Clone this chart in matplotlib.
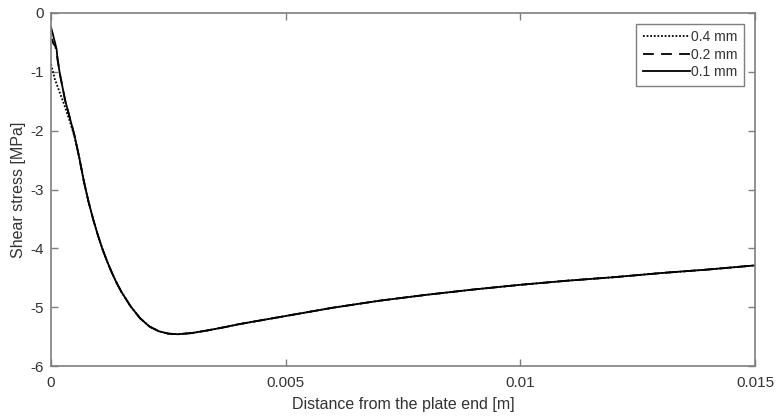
import matplotlib
matplotlib.use("Agg")
import matplotlib.pyplot as plt
import numpy as np

plt.rcParams['font.family'] = ['Liberation Sans', 'DejaVu Sans']

# shared part of the curves (all meshes coincide here)
x_common = [0.0006, 0.0007, 0.0008, 0.0009, 0.0010, 0.0011, 0.0012, 0.0013, 0.0014,
            0.0015, 0.0017, 0.0019, 0.0021, 0.0023, 0.0025, 0.0027, 0.0030, 0.0033,
            0.0037, 0.0040, 0.0045, 0.0050, 0.0055, 0.0060, 0.0065, 0.0070, 0.0075,
            0.0080, 0.0090, 0.0100, 0.0110, 0.0120, 0.0130, 0.0140, 0.0150]
y_common = [-2.45, -2.86, -3.21, -3.51, -3.78, -4.02, -4.23, -4.42, -4.59,
            -4.74, -4.99, -5.19, -5.33, -5.41, -5.45, -5.46, -5.44, -5.40,
            -5.34, -5.29, -5.22, -5.15, -5.08, -5.01, -4.95, -4.89, -4.84,
            -4.79, -4.70, -4.62, -4.55, -4.49, -4.42, -4.36, -4.29]

# near the plate end the meshes differ
x_head_01 = [0.0, 0.00004, 0.00009, 0.00012, 0.00014, 0.0002, 0.0003, 0.0004, 0.0005]
y_head_01 = [-0.24, -0.36, -0.52, -0.62, -0.80, -1.08, -1.48, -1.78, -2.08]
x_head_02 = [0.00002, 0.00005, 0.00009, 0.00012, 0.00014, 0.0002, 0.0003, 0.0004, 0.0005]
y_head_02 = [-0.44, -0.52, -0.56, -0.66, -0.78, -1.08, -1.48, -1.78, -2.08]
x_head_04 = [0.0, 0.00008, 0.0002, 0.0003, 0.0004, 0.0005]
y_head_04 = [-0.87, -1.12, -1.38, -1.60, -1.84, -2.10]

labels = ['0.4 mm', '0.2 mm', '0.1 mm']

grey = '#7f7f7f'
txt = '#333333'

fig = plt.figure(figsize=(7.78, 4.16), dpi=100)
ax = fig.add_axes([51/778, 50/416, (755-51)/778, (366-13)/416])

ax.plot(x_head_04 + x_common, y_head_04 + y_common, color='black', lw=1.3,
        linestyle=(0, (1, 1)), label=labels[0])
ax.plot(x_head_02 + x_common, y_head_02 + y_common, color='black', lw=1.3,
        linestyle=(0, (6, 4)), label=labels[1])
ax.plot(x_head_01 + x_common, y_head_01 + y_common, color='black', lw=1.3,
        linestyle='-', label=labels[2])

ax.set_xlim(0, 0.015)
ax.set_ylim(-6, 0)
ax.set_xticks([0, 0.005, 0.01, 0.015])
ax.set_xticklabels(['0', '0.005', '0.01', '0.015'])
ax.set_yticks(np.arange(-6, 1, 1))
ax.set_yticklabels([str(v) for v in range(-6, 1)])
ax.tick_params(direction='in', top=True, right=True, length=5, width=1,
               color=grey, labelcolor=txt, labelsize=11)
ax.tick_params(axis='x', pad=7)
ax.tick_params(axis='y', pad=5)
for s in ax.spines.values():
    s.set_color(grey)
    s.set_linewidth(1.2)

ax.set_xlabel('Distance from the plate end [m]', fontsize=11.5, color=txt, labelpad=5)
ax.set_ylabel('Shear stress [MPa]', fontsize=11.5, color=txt, labelpad=3)

leg = ax.legend(loc='upper right', fontsize=10, handlelength=3.4, handletextpad=0.1,
                borderaxespad=0.8, borderpad=0.45, labelspacing=0.25,
                fancybox=False, framealpha=1, edgecolor=grey)
leg.get_frame().set_linewidth(1.0)
for t in leg.get_texts():
    t.set_color(txt)

fig.savefig('out.png', dpi=100)
